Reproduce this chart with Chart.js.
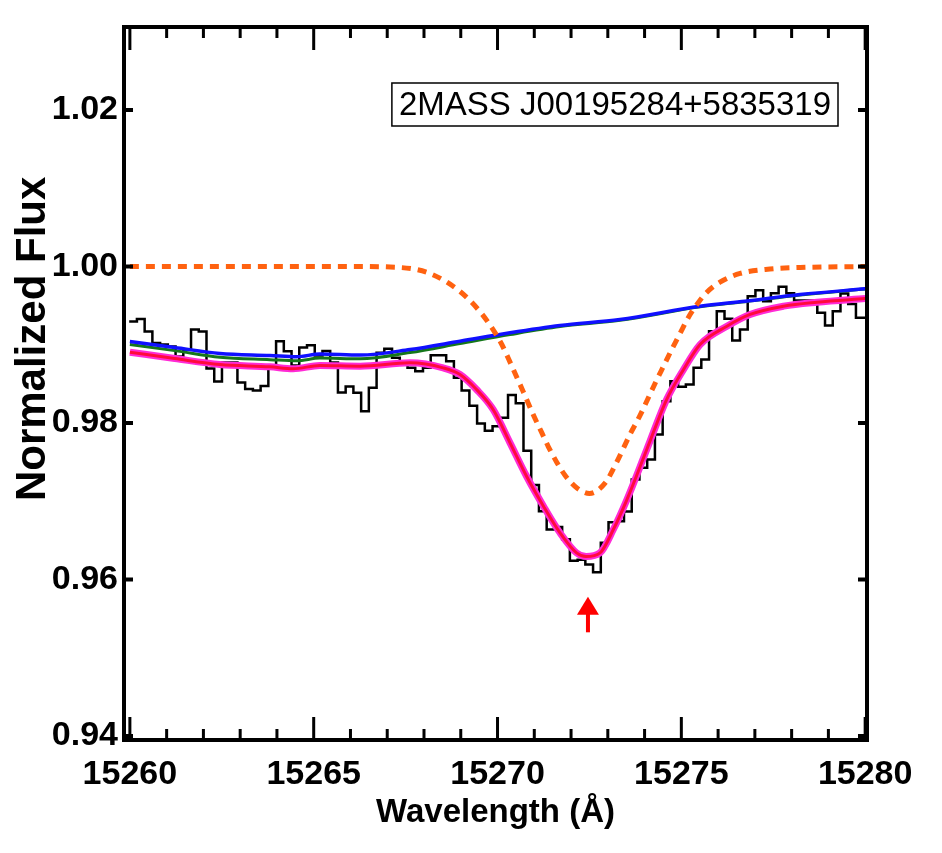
<!DOCTYPE html>
<html>
<head>
<meta charset="utf-8">
<script src="https://cdn.jsdelivr.net/npm/chart.js@4.4.1/dist/chart.umd.min.js"></script>
<style>
	html, body { margin: 0; padding: 0; background: #ffffff; }
</style>
</head>
<body>
<canvas id="chart" width="942" height="853"></canvas>
<script>
// Observed spectrum: one flux value per pixel, pixels of constant width
const specStart = 15259.981;	// left edge of first pixel (A)
const specStep = 0.2103;	// pixel width (A)
const specFlux = [
	0.99297, 0.99329, 0.99169, 0.99022, 0.99003, 0.98978, 0.98850, 0.98939, 0.99195, 0.99169,
	0.98696, 0.98530, 0.98773, 0.98773, 0.98518, 0.98435, 0.98415, 0.98473, 0.98722, 0.99045,
	0.98918, 0.98735, 0.98965, 0.98994, 0.98863, 0.98920, 0.98773, 0.98390, 0.98466, 0.98386,
	0.98151, 0.98450, 0.98897, 0.98948, 0.98833, 0.98790, 0.98705, 0.98662, 0.98705, 0.98866,
	0.98866, 0.98790, 0.98578, 0.98415, 0.98220, 0.97994, 0.97902, 0.97959, 0.98066, 0.98358,
	0.98253, 0.97646, 0.97208, 0.96873, 0.96639, 0.96671, 0.96515, 0.96240, 0.96252, 0.96192,
	0.96093, 0.96469, 0.96732, 0.96745, 0.96869, 0.97278, 0.97428, 0.97534, 0.97853, 0.98279,
	0.98534, 0.98463, 0.98492, 0.98705, 0.98812, 0.99173, 0.99429, 0.99332, 0.99054, 0.99195,
	0.99620, 0.99697, 0.99557, 0.99659, 0.99741, 0.99659, 0.99565, 0.99565, 0.99565, 0.99408,
	0.99246, 0.99429, 0.99655, 0.99521, 0.99346, 0.99346
];

// Continuum fits (blue, green)
const contWave = [15260.00, 15261.22, 15262.45, 15263.81, 15264.54, 15265.17, 15266.26, 15267.62,
	15268.98, 15270.34, 15271.70, 15273.33, 15275.51, 15276.73, 15278.23, 15280.00];
const blueFlux = [0.99042, 0.98965, 0.98888, 0.98863, 0.98846, 0.98882, 0.98869, 0.98939,
	0.99045, 0.99153, 0.99246, 0.99323, 0.99493, 0.99557, 0.99642, 0.99715];
const greenFlux = [0.99002, 0.98925, 0.98840, 0.98810, 0.98795, 0.98830, 0.98820, 0.98900,
	0.99015, 0.99130, 0.99232, 0.99312, 0.99485, 0.99550, 0.99637, 0.99712];

// Full model fit (magenta / red)
const fitWave = [15260.00, 15261.22, 15262.45, 15263.81, 15264.44, 15265.17, 15266.26, 15267.62,
	15268.52, 15268.98, 15269.43, 15269.88, 15270.34, 15270.79, 15271.25, 15271.70, 15272.15,
	15272.41, 15272.79, 15273.15, 15273.52, 15274.06, 15274.60, 15275.06, 15275.51, 15276.24,
	15276.87, 15277.78, 15278.69, 15280.00];
const fitFlux = [0.98905, 0.98824, 0.98748, 0.98718, 0.98693, 0.98735, 0.98726, 0.98769,
	0.98705, 0.98620, 0.98428, 0.98173, 0.97747, 0.97320, 0.96937, 0.96597, 0.96341,
	0.96294, 0.96341, 0.96639, 0.97022, 0.97661, 0.98300, 0.98684, 0.99003, 0.99237,
	0.99387, 0.99493, 0.99544, 0.99591];

// DIB profile alone (orange dotted)
const dibWave = [15260.00, 15266.00, 15267.35, 15268.16, 15268.98, 15269.52, 15269.87, 15270.11,
	15270.29, 15270.50, 15270.70, 15270.97, 15271.20, 15271.38, 15271.61, 15271.84, 15272.16,
	15272.50, 15272.93, 15273.22, 15273.61, 15273.88, 15274.10, 15274.31, 15274.53, 15274.75,
	15274.97, 15275.18, 15275.40, 15275.67, 15276.05, 15276.60, 15277.41, 15278.23, 15280.00];
const dibFlux = [1.00000, 1.00000, 0.99987, 0.99911, 0.99681, 0.99425, 0.99200, 0.99010,
	0.98830, 0.98610, 0.98400, 0.98110, 0.97880, 0.97700, 0.97500, 0.97330, 0.97170,
	0.97100, 0.97236, 0.97480, 0.97860, 0.98100, 0.98320, 0.98530, 0.98740, 0.98950,
	0.99150, 0.99340, 0.99500, 0.99660, 0.99800, 0.99911, 0.99968, 0.99987, 1.00000];

// Axis ticks and labels
const xTickValues = [15260, 15265, 15270, 15275, 15280];
const yTickValues = [0.94, 0.96, 0.98, 1.00, 1.02];
const xTitle = 'Wavelength (Å)';
const yTitle = 'Normalized Flux';
const starName = '2MASS J00195284+5835319';
const dibCentre = 15272.46;		// arrow marker
const arrowFlux = [0.95326, 0.95779];	// arrow base, tip

const fontFamily = "'Liberation Sans', Arial, Helvetica, sans-serif";

// Assemble the histogram points (step after each pixel edge)
function histogramPoints ()
{
	const points = specFlux.map((f, i) => ({x: specStart + i * specStep, y: f}));
	points.push({x: specStart + specFlux.length * specStep, y: specFlux[specFlux.length - 1]});
	return points;
}

function pairs (xs, ys)
{
	return xs.map((x, i) => ({x: x, y: ys[i]}));
}

// Frame, inward ticks, y title, star label and arrow
const framePlugin = {
	id: 'frame',
	afterDraw (chart) {
		const {ctx, chartArea: area, scales: {x, y}} = chart;
		ctx.save();
		ctx.strokeStyle = '#000';
		ctx.lineCap = 'butt';

		// X ticks, major every 5 A, minor every 1 A, top and bottom
		ctx.lineWidth = 3;
		for (let v = Math.ceil(x.min); v <= Math.floor(x.max); v++) {
			const px = x.getPixelForValue(v);
			const len = (v % 5 === 0 ? 23 : 11);
			ctx.beginPath();
			ctx.moveTo(px, area.bottom); ctx.lineTo(px, area.bottom - len);
			ctx.moveTo(px, area.top); ctx.lineTo(px, area.top + len);
			ctx.stroke();
		}

		// Y ticks, left and right
		ctx.lineWidth = 4;
		yTickValues.forEach(v => {
			const py = y.getPixelForValue(v);
			ctx.beginPath();
			ctx.moveTo(area.left, py); ctx.lineTo(area.left + 9, py);
			ctx.moveTo(area.right, py); ctx.lineTo(area.right - 9, py);
			ctx.stroke();
		});

		// Frame
		ctx.lineWidth = 4;
		ctx.strokeRect(area.left, area.top, area.right - area.left, area.bottom - area.top);

		// Y axis title (sits a little above the middle of the axis)
		ctx.fillStyle = '#000';
		ctx.save();
		ctx.translate(33, y.getPixelForValue(0.99075));
		ctx.rotate(-Math.PI / 2);
		ctx.font = 'bold 42px ' + fontFamily;
		ctx.textAlign = 'center';
		ctx.textBaseline = 'middle';
		ctx.fillText(yTitle, 0, 0);
		ctx.restore();

		// Star label box
		ctx.font = '33px ' + fontFamily;
		const tw = ctx.measureText(starName).width;
		const boxRight = area.right - 29;
		const boxTop = area.top + 56;
		const boxW = tw + 14;
		const boxH = 43;
		ctx.lineWidth = 1.5;
		ctx.strokeRect(boxRight - boxW, boxTop, boxW, boxH);
		ctx.textAlign = 'center';
		ctx.textBaseline = 'middle';
		ctx.fillText(starName, boxRight - boxW / 2, boxTop + boxH / 2 + 1);

		// Arrow under the DIB centre
		const ax = x.getPixelForValue(dibCentre);
		const yBase = y.getPixelForValue(arrowFlux[0]);
		const yTip = y.getPixelForValue(arrowFlux[1]);
		ctx.fillStyle = '#ff0000';
		ctx.fillRect(ax - 2, yTip + 15, 4, yBase - yTip - 15);
		ctx.beginPath();
		ctx.moveTo(ax, yTip);
		ctx.lineTo(ax - 11, yTip + 18);
		ctx.lineTo(ax + 11, yTip + 18);
		ctx.closePath();
		ctx.fill();
		ctx.restore();
	}
};

// Render the chart
new Chart(document.getElementById('chart').getContext('2d'), {
	type: 'line',
	data: {
		datasets: [
			{
				label: 'fit core',
				data: pairs(fitWave, fitFlux),
				borderColor: '#ff0a3c',
				borderWidth: 3,
				cubicInterpolationMode: 'monotone',
				pointRadius: 0
			},
			{
				label: 'fit',
				data: pairs(fitWave, fitFlux),
				borderColor: '#ff2bd6',
				borderWidth: 7,
				cubicInterpolationMode: 'monotone',
				pointRadius: 0
			},
			{
				label: 'DIB',
				data: pairs(dibWave, dibFlux),
				borderColor: '#ff6210',
				borderWidth: 5,
				borderDash: [9, 7],
				cubicInterpolationMode: 'monotone',
				pointRadius: 0
			},
			{
				label: 'continuum',
				data: pairs(contWave, blueFlux),
				borderColor: '#1010ff',
				borderWidth: 3.5,
				cubicInterpolationMode: 'monotone',
				pointRadius: 0
			},
			{
				label: 'continuum 2',
				data: pairs(contWave, greenFlux),
				borderColor: '#15771a',
				borderWidth: 3,
				cubicInterpolationMode: 'monotone',
				pointRadius: 0
			},
			{
				label: 'spectrum',
				data: histogramPoints(),
				borderColor: '#000000',
				borderWidth: 2.5,
				stepped: true,
				pointRadius: 0
			}
		]
	},
	options: {
		responsive: false,
		animation: false,
		devicePixelRatio: 1,
		layout: {
			padding: {top: 27, right: 75, bottom: 0, left: 0}
		},
		plugins: {
			legend: {display: false},
			tooltip: {enabled: false}
		},
		scales: {
			x: {
				type: 'linear',
				min: 15259.84,
				max: 15280.05,
				afterBuildTicks: axis => { axis.ticks = xTickValues.map(v => ({value: v})); },
				afterFit: axis => { axis.height = 113; axis.paddingLeft = 0; axis.paddingRight = 0; },
				grid: {display: false, drawTicks: false},
				border: {display: false},
				ticks: {
					color: '#000',
					padding: 14,
					maxRotation: 0,
					autoSkip: false,
					font: {family: fontFamily, size: 34, weight: 'bold'},
					callback: v => String(v)
				},
				title: {
					display: true,
					text: xTitle,
					color: '#000',
					font: {family: fontFamily, size: 33, weight: 'bold'},
					padding: {top: 0, bottom: 20}
				}
			},
			y: {
				type: 'linear',
				min: 0.9395,
				max: 1.0306,
				afterBuildTicks: axis => { axis.ticks = yTickValues.map(v => ({value: v})); },
				afterFit: axis => { axis.width = 124; axis.paddingTop = 0; axis.paddingBottom = 0; },
				grid: {display: false, drawTicks: false},
				border: {display: false},
				ticks: {
					color: '#000',
					padding: 6,
					font: {family: fontFamily, size: 34, weight: 'bold'},
					callback: v => v.toFixed(2)
				},
				title: {display: false}
			}
		}
	},
	plugins: [framePlugin]
});
</script>
</body>
</html>
